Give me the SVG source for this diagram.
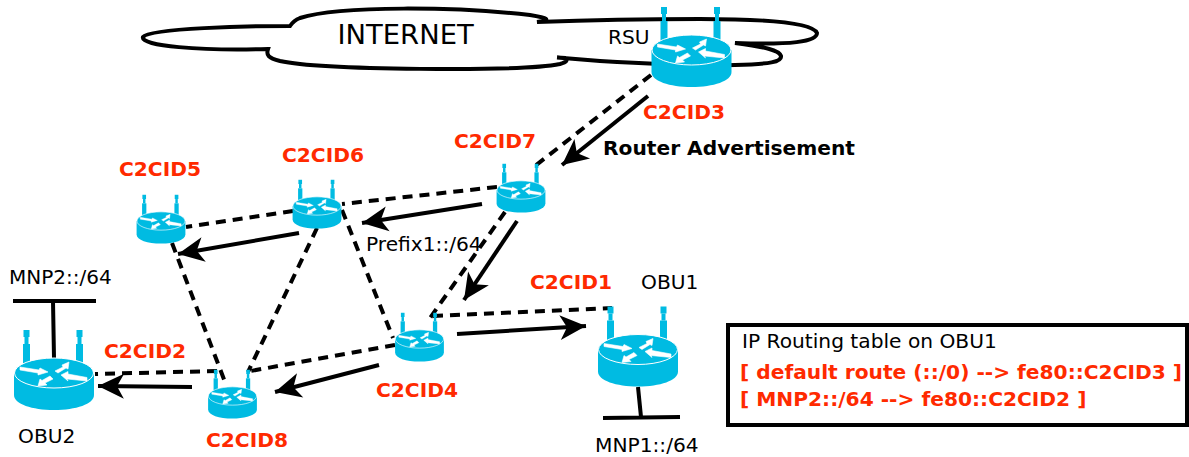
<svg xmlns="http://www.w3.org/2000/svg" width="1189" height="457" viewBox="0 0 1189 457">
<style>
text{font-family:"DejaVu Sans",sans-serif;font-size:20.2px;fill:#000}
.r{font-weight:bold;fill:#ff2a00}
.b{font-weight:bold}
.d{fill:none;stroke:#000;stroke-width:4;stroke-dasharray:10 7}
.s{fill:none;stroke:#000;stroke-width:4}
.a{fill:none;stroke:#000;stroke-width:4;marker-end:url(#ah)}
</style>
<defs>
<marker id="ah" markerUnits="userSpaceOnUse" markerWidth="34" markerHeight="30" refX="30" refY="15" orient="auto" overflow="visible">
<path d="M30 15L4 2.500L11 15L4 27.500Z" fill="#000"/>
</marker>
<g id="router">
<rect x="-30.500" y="-43" width="6" height="7" fill="#00bbe2"/>
<rect x="-29.500" y="-36" width="4" height="7" fill="#00bbe2"/>
<rect x="-31" y="-29" width="7" height="20" fill="#00bbe2"/>
<rect x="22.500" y="-43" width="6" height="7" fill="#00bbe2"/>
<rect x="23.500" y="-36" width="4" height="7" fill="#00bbe2"/>
<rect x="22" y="-29" width="7" height="20" fill="#00bbe2"/>
<path d="M-40 0V22C-40 31-22 37 0 37S40 31 40 22V0Z" fill="#00bbe2"/>
<ellipse cx="0" cy="0" rx="39.500" ry="15" fill="#00bbe2" stroke="#fff" stroke-width="1"/>
<path d="M-34-6L-15-3L-14-5L-6-1L-16 2L-16 0L-34-3ZM1-2L9-6L8-8L15-11L14-4L12-5L4 0ZM7 2L14-1.500L14 1L33 4.500L33 8L13 6L14 8ZM-16 13L-14 6L-12 7.500L-4 3L-1 6L-9 10L-7 12Z" fill="#fff" stroke="#fff" stroke-width=".6"/>
</g>
</defs>
<g id="cloud">
<path class="s" d="M290 26C250 26 150 28 143 37C140 46 200 51 268 49C266 55 268 58 280 61C320 70 520 72 560 64C567 62 568 60 565 58L557 57.500L600 61C650 64 690 66 735 65C770 64 782 62 781 56C779 50 765 47 735 43C790 45 817 42 817 33C812 22 760 19 700 19C640 19 590 20 537 22C552 20 548 18 530 15C460 7 340 5 300 18C295 20 292 23 290 26Z"/>
<text x="337.500" y="44" style="font-size:27.400px">INTERNET</text>
</g>
<g id="connectors">
<path class="d" d="M651 75L535 166"/>
<path class="d" d="M497 187L342 204"/>
<path class="d" d="M293 211L186 227"/>
<path class="d" d="M172 243L225 382"/>
<path class="d" d="M317 228L248 372"/>
<path class="d" d="M342 210L393 338"/>
<path class="d" d="M505 212L430 318"/>
<path class="d" d="M433 316L612 308"/>
<path class="d" d="M395 345L245 372"/>
<path class="d" d="M217 371L95 374"/>
<path class="a" d="M648 96L562 165"/>
<path class="a" d="M482 204L362 223"/>
<path class="a" d="M299 233L178 254"/>
<path class="a" d="M517 221L464 300"/>
<path class="a" d="M457 334L586 326"/>
<path class="a" d="M379 365L275 392"/>
<path class="a" d="M192 387L98 386"/>
<path class="s" d="M54 358L53 301M13 301H96"/>
<path class="s" d="M638 387L641 417M603 418L680 417"/>
</g>
<g id="rsu"><use href="#router" transform="translate(691.500 50)"/><text x="608" y="43.500">RSU</text><text class="r" x="643" y="118.500">C2CID3</text></g>
<g id="c2cid7"><use href="#router" transform="translate(521 190) scale(.61)"/><text class="r" x="454" y="147.500">C2CID7</text></g>
<g id="c2cid6"><use href="#router" transform="translate(317 206) scale(.61)"/><text class="r" x="282" y="161.500">C2CID6</text></g>
<g id="c2cid5"><use href="#router" transform="translate(161 221) scale(.61)"/><text class="r" x="119" y="176">C2CID5</text></g>
<g id="c2cid4"><use href="#router" transform="translate(419.500 339) scale(.61)"/><text class="r" x="376" y="396.500">C2CID4</text></g>
<g id="c2cid8"><use href="#router" transform="translate(232.500 396) scale(.61)"/><text class="r" x="206" y="446.500">C2CID8</text></g>
<g id="obu1"><use href="#router" transform="translate(638 349.500)"/><text x="641" y="288.500">OBU1</text><text class="r" x="530" y="288.500">C2CID1</text><text x="595" y="451.500">MNP1::/64</text></g>
<g id="obu2"><use href="#router" transform="translate(54 373)"/><text x="18" y="442.500">OBU2</text><text class="r" x="104" y="357.500">C2CID2</text><text x="9" y="283.500" style="font-size:20px">MNP2::/64</text></g>
<g id="labels"><text class="b" x="603" y="155">Router Advertisement</text><text x="366" y="251">Prefix1::/64</text></g>
<g id="table">
<rect x="728" y="325" width="459" height="100" fill="#fff" stroke="#000" stroke-width="4"/>
<text x="742" y="347.500">IP Routing table on OBU1</text>
<text class="r" x="740" y="378.500">[ default route (::/0) --&gt; fe80::C2CID3 ]</text>
<text class="r" x="740" y="405.500">[ MNP2::/64 --&gt; fe80::C2CID2 ]</text>
</g>
</svg>
